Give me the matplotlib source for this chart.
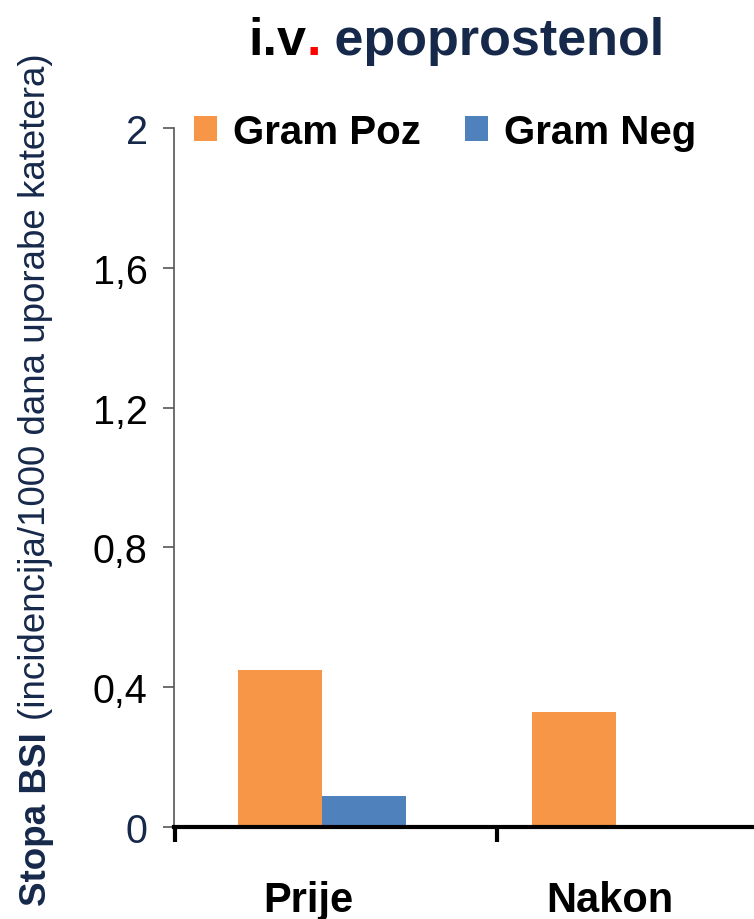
import numpy as np
import matplotlib
matplotlib.use("Agg")
import matplotlib.pyplot as plt

plt.rcParams['font.family'] = ['Liberation Sans', 'DejaVu Sans']

# data
categories = ["Prije", "Nakon"]
gram_poz = [0.45, 0.33]
gram_neg = [0.09, 0.0]
yticks = [0, 0.4, 0.8, 1.2, 1.6, 2.0]
ytick_labels = ["0", "0,4", "0,8", "1,2", "1,6", "2"]

orange = "#F79646"
blue = "#4F81BD"
navy = "#17294A"

fig = plt.figure(figsize=(7.54, 9.2), dpi=100)
ax = fig.add_axes([174 / 754, 0.1, 1 - 174 / 754, (828 - 129) / 920])

x = np.arange(len(categories))
w = 0.286
ax.bar(x - w / 2, gram_poz, w, color=orange, label="Gram Poz")
ax.bar(x + w / 2, gram_neg, w, color=blue, label="Gram Neg")

ax.set_xlim(-0.503, 1.469)
ax.set_ylim(0, 2)

# spines
for s in ["top", "right"]:
    ax.spines[s].set_visible(False)
ax.spines["left"].set_color("#555555")
ax.spines["left"].set_linewidth(1.2)
ax.spines["bottom"].set_color("black")
ax.spines["bottom"].set_linewidth(3)
ax.spines["bottom"].set_zorder(5)

# y ticks
ax.set_yticks(yticks)
ax.set_yticklabels(ytick_labels)
ax.tick_params(axis="y", length=8, width=1.2, color="#555555", pad=11, labelsize=28.5)
for lbl in ax.get_yticklabels():
    if lbl.get_text() in ("0", "2"):
        lbl.set_color(navy)

# x ticks: category labels (no marks) + boundary marks
ax.set_xticks(x + np.array([-0.048, -0.02]))
ax.set_xticklabels(categories, fontsize=30, fontweight="bold")
ax.tick_params(axis="x", which="major", length=0, pad=38)
ax.set_xticks([-0.5, 0.595], minor=True)
ax.tick_params(axis="x", which="minor", length=11, width=3, color="black")

# legend
fig.legend(loc="center left", bbox_to_anchor=(194 / 754, 1 - 133 / 920),
           ncol=2, frameon=False, prop={"weight": "bold", "size": 29},
           handlelength=0.57, handleheight=0.57, handletextpad=0.4,
           columnspacing=1.1, borderpad=0, borderaxespad=0)

# y label: bold part + normal part
fig.text(36 / 754, 1 - 906 / 920, "Stopa BSI", rotation=90, ha="center", va="bottom",
         fontsize=26.5, fontweight="bold", color=navy)
fig.text(36 / 754, 1 - 720 / 920, "(incidencija/1000 dana uporabe katetera)", rotation=90,
         ha="center", va="bottom", fontsize=26.5, color=navy)

# title in three pieces
fig.canvas.draw()
r = fig.canvas.get_renderer()
ty = 1 - 55 / 920
t1 = fig.text(248 / 754, ty, "i.v", fontsize=37.5, fontweight="bold", color="black", va="baseline")
bb = t1.get_window_extent(r)
t2 = fig.text(bb.x1 / 754, ty, ".", fontsize=37.5, fontweight="bold", color="#FF0000", va="baseline")
bb = t2.get_window_extent(r)
fig.text(bb.x1 / 754, ty, " epoprostenol", fontsize=37.5, fontweight="bold", color=navy, va="baseline")

fig.savefig("out.png", dpi=100)
